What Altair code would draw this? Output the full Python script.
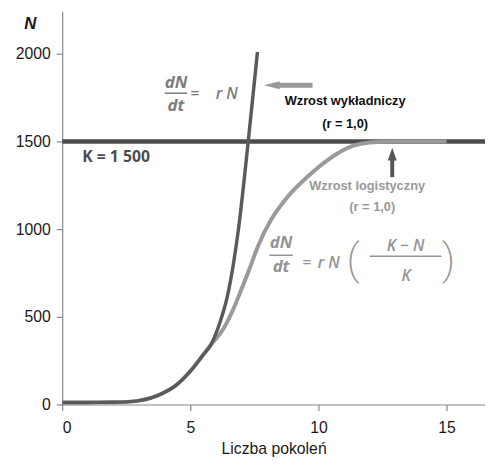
import altair as alt
import pandas as pd

# ---- data ----
exp_x = [0, 1, 2, 2.5, 3, 3.5, 4, 4.4, 5.0, 5.5, 5.8, 6.17, 6.45, 6.68, 6.87, 7.26, 7.62]
exp_n = [12, 12, 13, 15, 22, 39, 70, 105, 190, 283, 340, 475, 620, 800, 990, 1500, 2010]
log_x = [0, 1, 2, 2.5, 3, 3.5, 4, 4.4, 5.0, 5.5, 5.8, 6.3, 6.74, 7.0, 7.3, 7.64, 8.15,
         8.8, 9.56, 10.33, 11.36, 12.0, 13.0, 15.0]
log_n = [12, 12, 13, 15, 22, 39, 70, 105, 190, 283, 340, 434, 565, 659, 770, 903, 1053,
         1185, 1297, 1391, 1476, 1494, 1500, 1500]
K = [1500]
x_ticks = [0, 5, 10, 15]
y_ticks = [0, 500, 1000, 1500, 2000]
X_MAX = 16.5
Y_MAX = 2242

# annotation texts (data coordinates)
lab_bold = pd.DataFrame({
    "x": [11.04, 11.04, 11.9, 12.1],
    "N": [1730, 1600, 1245, 1127],
    "t": ["Wzrost wykładniczy", "(r = 1,0)", "Wzrost logistyczny", "(r = 1,0)"],
    "c": ["#111111", "#111111", "#999999", "#999999"],
})
k_lab = pd.DataFrame({"x": [2.1], "N": [1408], "t": ["K = 1 500"]})
eq_frac = pd.DataFrame({
    "x": [4.44, 4.44, 8.54, 8.54],
    "N": [1834, 1703, 918, 785],
    "t": ["dN", "dt", "dN", "dt"],
    "c": ["#7c7c7c", "#7c7c7c", "#939393", "#939393"],
})
eq_rest = pd.DataFrame({
    "x": [5.17, 6.42, 9.54, 10.4, 13.4, 13.42],
    "N": [1772, 1769, 805, 805, 905, 735],
    "t": ["=", "r N", "=", "r N", "K − N", "K"],
    "c": ["#7c7c7c", "#7c7c7c", "#939393", "#939393", "#939393", "#939393"],
})
parens = pd.DataFrame({"x": [11.35, 15.08], "N": [815, 815], "t": ["(", ")"]})
bars = pd.DataFrame({
    "x": [4.0, 8.08, 12.0],
    "x2": [4.88, 9.0, 14.8],
    "N": [1775, 851, 845],
    "c": ["#7c7c7c", "#939393", "#939393"],
})
# arrows
arrow_l_shaft = pd.DataFrame({"x": [8.4], "x2": [9.77], "N": [1820]})
arrow_l_head = pd.DataFrame({"x": [8.18], "N": [1820]})
arrow_u_shaft = pd.DataFrame({"x": [12.88], "N": [1410], "N2": [1296]})
arrow_u_head = pd.DataFrame({"x": [12.88], "N": [1428]})

rows = [{"x": a, "N": b, "s": "exp"} for a, b in zip(exp_x, exp_n)] + \
       [{"x": a, "N": b, "s": "log"} for a, b in zip(log_x, log_n)]
curves = pd.DataFrame(rows)

xs = alt.Scale(domain=[0, X_MAX], nice=False, zero=False)
ys = alt.Scale(domain=[0, Y_MAX], nice=False, zero=False)
x_axis = alt.Axis(values=x_ticks, title="Liczba pokoleń", grid=False, format="d")
y_axis = alt.Axis(values=y_ticks, title="N", grid=False, format="d", titleAngle=0,
                  titleX=-33, titleY=12, titleAlign="center", titleBaseline="middle",
                  titleFontStyle="italic", titleFontWeight="bold", titleFontSize=17,
                  titleColor="#1a1a1a")


def X(f="x"):
    return alt.X(f"{f}:Q", scale=xs, axis=x_axis)


def Y(f="N"):
    return alt.Y(f"{f}:Q", scale=ys, axis=y_axis)


k_line = alt.Chart(pd.DataFrame({"N": K})).mark_rule(
    color="#4d4d4d", strokeWidth=4.5).encode(y=Y())

log_line = alt.Chart(curves[curves.s == "log"]).mark_line(
    color="#9a9a9a", strokeWidth=4, interpolate="monotone").encode(x=X(), y=Y())
exp_line = alt.Chart(curves[curves.s == "exp"]).mark_line(
    color="#5a5a5a", strokeWidth=3.5, interpolate="monotone").encode(x=X(), y=Y())

t_bold = alt.Chart(lab_bold).mark_text(
    font="Liberation Sans", fontWeight="bold", fontSize=13, align="center",
    baseline="middle").encode(x=X(), y=Y(), text="t:N",
                              color=alt.Color("c:N", scale=None))
t_k = alt.Chart(k_lab).mark_text(
    font="Open Sans", fontWeight="bold", fontSize=16, align="center",
    baseline="middle", color="#4d4d4d").encode(x=X(), y=Y(), text="t:N")
t_frac = alt.Chart(eq_frac).mark_text(
    font="Open Sans", fontWeight="bold", fontStyle="italic", fontSize=17,
    align="center", baseline="middle").encode(x=X(), y=Y(), text="t:N",
                                              color=alt.Color("c:N", scale=None))
t_rest = alt.Chart(eq_rest).mark_text(
    font="Open Sans", fontWeight=600, fontStyle="italic", fontSize=16, align="center",
    baseline="middle").encode(x=X(), y=Y(), text="t:N",
                              color=alt.Color("c:N", scale=None))
t_par = alt.Chart(parens).mark_text(
    font="Roboto", fontWeight=200, fontSize=44, align="center", baseline="middle",
    color="#939393").encode(x=X(), y=Y(), text="t:N")
r_bars = alt.Chart(bars).mark_rule(strokeWidth=1.5).encode(
    x=X(), x2="x2:Q", y=Y(), color=alt.Color("c:N", scale=None))

a1s = alt.Chart(arrow_l_shaft).mark_rule(color="#9a9a9a", strokeWidth=5).encode(
    x=X(), x2="x2:Q", y=Y())
a1h = alt.Chart(arrow_l_head).mark_point(
    shape="M -1 0 L 1 -0.5 L 1 0.5 Z", filled=True, size=256, opacity=1,
    color="#9a9a9a", strokeWidth=0).encode(x=X(), y=Y())
a2s = alt.Chart(arrow_u_shaft).mark_rule(color="#555555", strokeWidth=4).encode(
    x=X(), y=Y(), y2="N2:Q")
a2h = alt.Chart(arrow_u_head).mark_point(
    shape="M 0 -1 L 0.7 1 L -0.7 1 Z", filled=True, size=169, opacity=1,
    color="#555555", strokeWidth=0).encode(x=X(), y=Y())

chart = alt.layer(
    k_line, log_line, exp_line, r_bars, t_bold, t_k, t_frac, t_rest, t_par,
    a1s, a1h, a2s, a2h
).properties(
    width=429, height=399,
    autosize=alt.AutoSizeParams(type="none"),
    padding={"left": 55, "top": 0, "right": 0, "bottom": 55},
).configure_view(stroke=None).configure_axis(
    labelFont="Liberation Sans", labelFontSize=16, labelColor="#1a1a1a",
    titleFont="Liberation Sans", titleFontSize=16, titleFontWeight="normal",
    titleColor="#1a1a1a", domainColor="#888888", tickColor="#888888",
    tickSize=6, domainWidth=1.2, tickWidth=1.2,
).configure_axisX(labelPadding=9, titlePadding=6).configure_axisY(labelPadding=6)

chart.save("out.html", embed_options={"renderer": "svg", "actions": False})
